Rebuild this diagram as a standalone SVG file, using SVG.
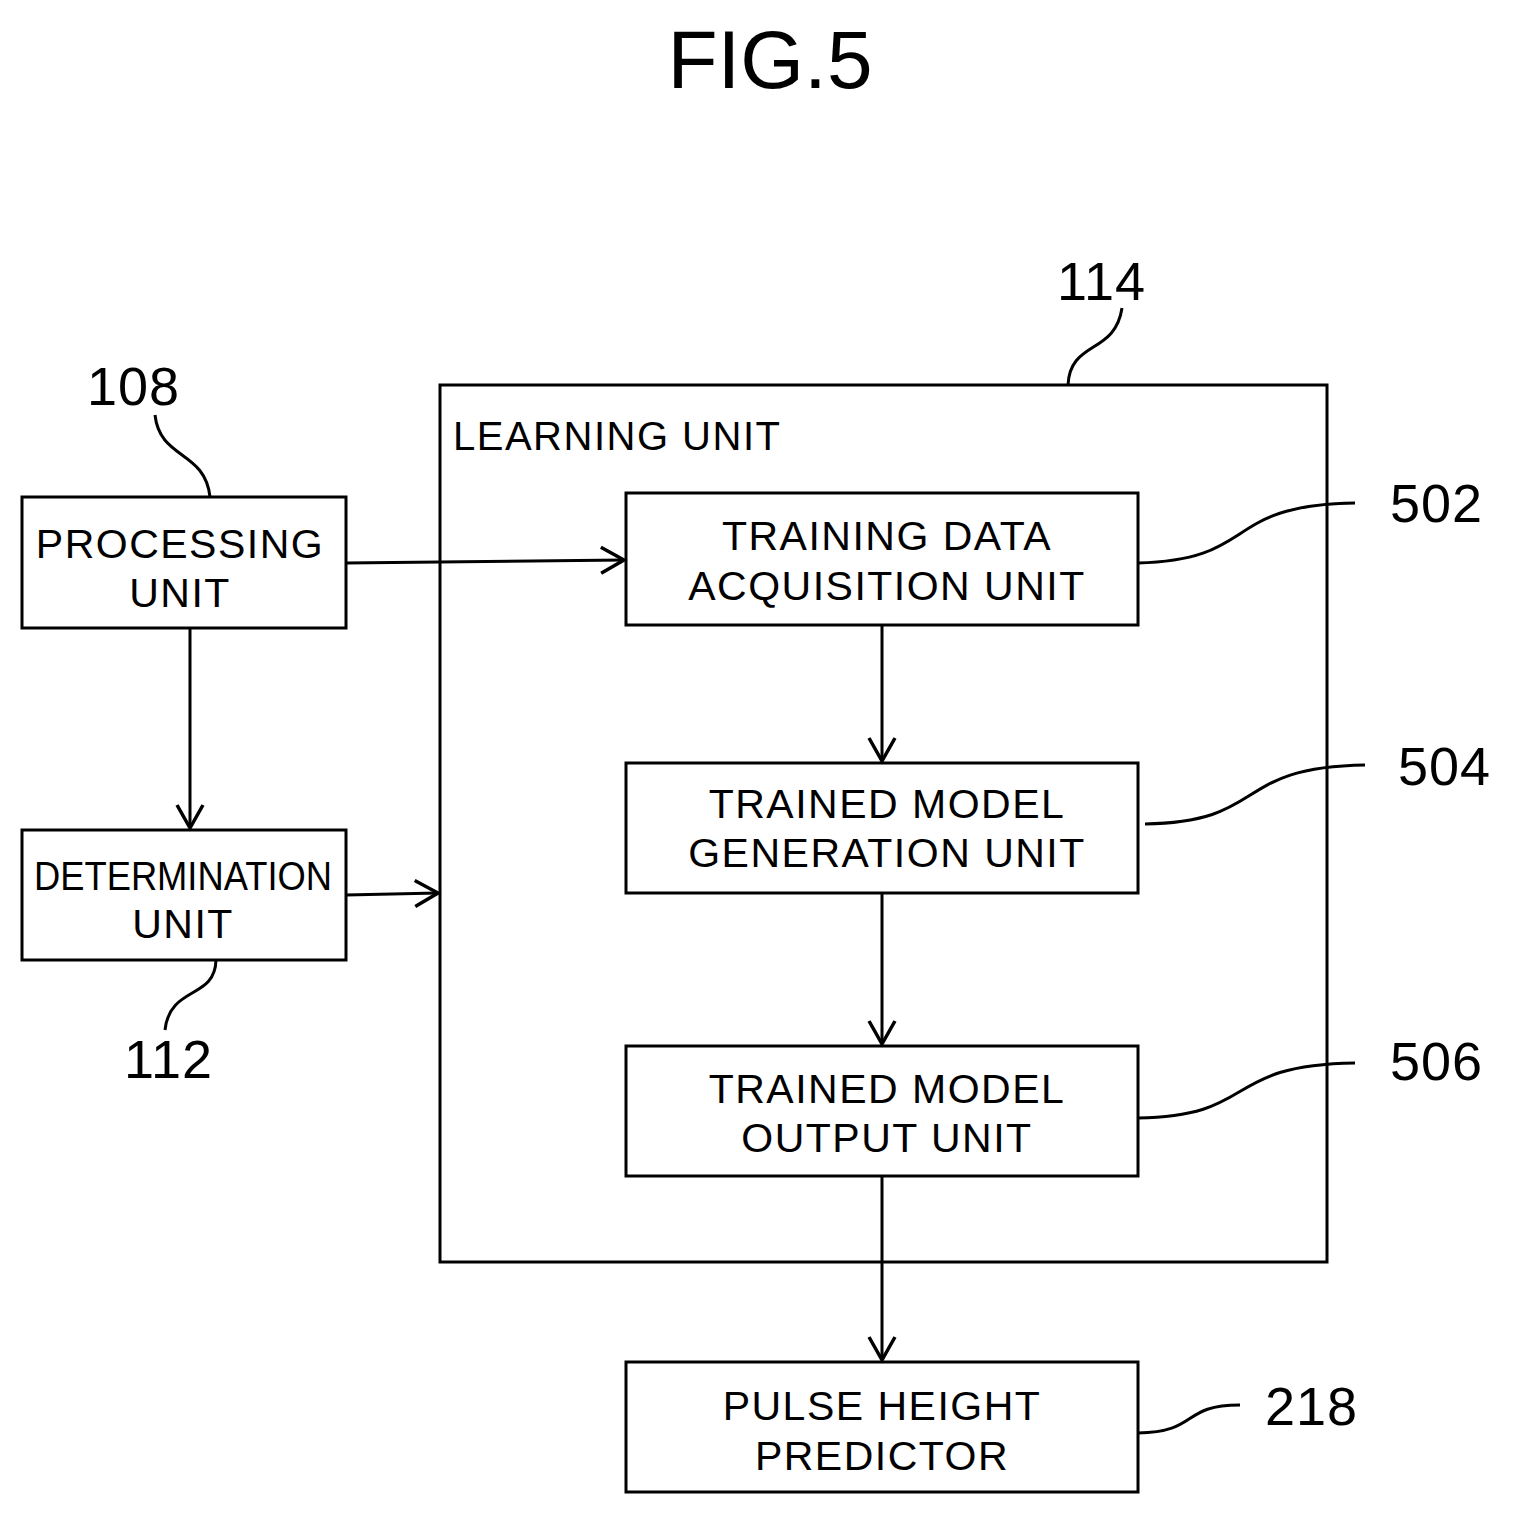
<svg xmlns="http://www.w3.org/2000/svg" width="1515" height="1515" viewBox="0 0 1515 1515">
<style>
.b{fill:#fff;stroke:#000;stroke-width:3}
.l{fill:none;stroke:#000;stroke-width:3}
text{font-family:"Liberation Sans",Arial,sans-serif;fill:#000}
.t{font-size:41px;text-anchor:middle;letter-spacing:1.5px}
.n{font-size:54px;letter-spacing:1px}
</style>
<defs><marker id="a" markerWidth="30" markerHeight="30" refX="26" refY="15" orient="auto" markerUnits="userSpaceOnUse"><path d="M3,2 L26,15 L3,28" fill="none" stroke="#000" stroke-width="3.5"/></marker></defs>
<rect width="1515" height="1515" fill="#fff"/>
<text x="770" y="88" font-size="82" text-anchor="middle">FIG.5</text>
<g id="learning"><rect class="b" x="440" y="385" width="887" height="877"/><text x="453" y="450" font-size="40" letter-spacing="1.5">LEARNING UNIT</text><path class="l" d="M1068,385 C1070,340 1115,355 1122,308"/><text class="n" x="1057" y="300">114</text></g>
<g id="processing"><rect class="b" x="22" y="497" width="324" height="131"/><text class="t" x="180" y="558">PROCESSING</text><text class="t" x="180" y="607">UNIT</text><path class="l" d="M210,497 C205,450 160,460 155,415"/><text class="n" x="87" y="405">108</text></g>
<g id="determination"><rect class="b" x="22" y="830" width="324" height="130"/><text x="183" y="890" font-size="41" text-anchor="middle" textLength="298" lengthAdjust="spacingAndGlyphs">DETERMINATION</text><text class="t" x="183" y="938">UNIT</text><path class="l" d="M216,960 C215,1000 170,985 165,1030"/><text class="n" x="124" y="1078">112</text></g>
<g id="training"><rect class="b" x="626" y="493" width="512" height="132"/><text class="t" x="887" y="550">TRAINING DATA</text><text class="t" x="887" y="600">ACQUISITION UNIT</text><path class="l" d="M1138,563 C1260,560 1220,505 1355,503"/><text class="n" x="1390" y="522">502</text></g>
<g id="generation"><rect class="b" x="626" y="763" width="512" height="130"/><text class="t" x="887" y="818">TRAINED MODEL</text><text class="t" x="887" y="867">GENERATION UNIT</text><path class="l" d="M1145,824 C1270,822 1230,767 1365,765"/><text class="n" x="1398" y="785">504</text></g>
<g id="output"><rect class="b" x="626" y="1046" width="512" height="130"/><text class="t" x="887" y="1103">TRAINED MODEL</text><text class="t" x="887" y="1152">OUTPUT UNIT</text><path class="l" d="M1138,1118 C1260,1116 1220,1065 1355,1063"/><text class="n" x="1390" y="1080">506</text></g>
<g id="pulse"><rect class="b" x="626" y="1362" width="512" height="130"/><text class="t" x="882" y="1420">PULSE HEIGHT</text><text class="t" x="882" y="1470">PREDICTOR</text><path class="l" d="M1138,1433 C1200,1432 1180,1405 1240,1405"/><text class="n" x="1265" y="1425">218</text></g>
<g id="connectors">
<path class="l" d="M346,563 L624,560" marker-end="url(#a)"/>
<path class="l" d="M190,628 L190,828" marker-end="url(#a)"/>
<path class="l" d="M346,895 L438,893" marker-end="url(#a)"/>
<path class="l" d="M882,625 L882,761" marker-end="url(#a)"/>
<path class="l" d="M882,893 L882,1044" marker-end="url(#a)"/>
<path class="l" d="M882,1176 L882,1360" marker-end="url(#a)"/>
</g>
</svg>
